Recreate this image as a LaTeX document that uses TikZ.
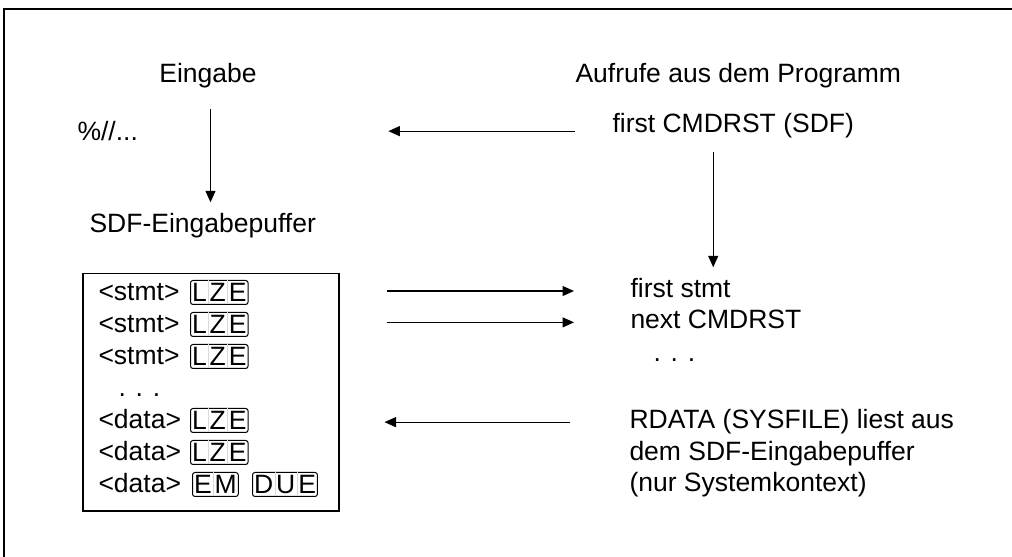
\documentclass[tikz,border=0pt]{standalone}
\usepackage{fontspec}
\setmainfont{Liberation Sans}
\usetikzlibrary{arrows.meta}

% Trennstrich zwischen den Tasten-Buchstaben
\newcommand{\ksep}{\hspace{0.6pt}\rlap{\color{black!15}\rule[-1pt]{0.2pt}{9.6pt}}\hspace{0.6pt}}

\begin{document}
\begin{tikzpicture}[x=0.4pt, y=-0.4pt,
txt/.style={font=\fontsize{10.6}{12.8}\selectfont, inner sep=2pt},
taste/.style={draw, rounded corners=1pt, font=\fontsize{10.6}{12.8}\selectfont, inner xsep=0.6pt, inner ysep=1pt, text height=7.6pt, text depth=0pt, anchor=base west, line width=0.4pt},
arr/.style={-{Triangle[length=4.6pt,width=4pt]}, line width=0.5pt},
]
\useasboundingbox (0,0) rectangle (1012,557);
%% Rahmen
\draw[line width=0.6pt] (4,557) -- (4,9) -- (1012,9);

%% Ueberschriften
\node[txt, anchor=base] (eingabe) at (208,83) {Eingabe};
\node[txt, anchor=base west] (aufrufe) at (570,83) {Aufrufe aus dem Programm};
\node[txt, anchor=base west] (prozent) at (72,141) {\%//...};
\node[txt, anchor=base west] (cmdrst) at (607,133) {first CMDRST (SDF)};
\node[txt, anchor=base west] (puffer) at (84,233) {SDF-Eingabepuffer};

%% Eingabepuffer
\node[draw, line width=0.6pt, anchor=north west, minimum width=102.4pt, minimum height=94.8pt, inner sep=0pt] (box) at (82,273) {};
\foreach \y/\inhalt [count=\i] in {301/{<stmt>}, 333/{<stmt>}, 365/{<stmt>}, 429/{<data>}, 461/{<data>}, 493/{<data>}}
  \node[txt, anchor=base west] (zeile\i) at (93,\y) {\inhalt};
\node[txt, anchor=base west] (punkte) at (113,397) {. . .};
\foreach \y [count=\i] in {302,334,366,430,462}
  \node[taste] (lze\i) at (190,\y) {L\ksep Z\ksep E};
\node[taste] (em) at (192,494) {E\ksep M};
\node[taste] (due) at (252,494) {D\ksep U\ksep E};

%% Aufrufe
\node[txt, anchor=base west] (fstmt) at (625,298) {first stmt};
\node[txt, anchor=base west] (next) at (625,329) {next CMDRST};
\node[txt, anchor=base west] (rpunkte) at (648,362) {. . .};
\node[txt, anchor=base west] (rdata1) at (624,429) {RDATA (SYSFILE) liest aus};
\node[txt, anchor=base west] (rdata2) at (624,461) {dem SDF-Eingabepuffer};
\node[txt, anchor=base west] (rdata3) at (624,492) {(nur Systemkontext)};

%% Pfeile
\coordinate (ca) at ([yshift=-2pt]cmdrst.west);
\coordinate (cb) at ([xshift=-8pt]cmdrst.south);
\draw[arr, shorten <=6.2pt, shorten >=2.4pt] ([xshift=1pt]eingabe.south) -- ([xshift=1pt]eingabe.south |- puffer.north);
\draw[arr, shorten <=12.8pt, shorten >=98pt] (ca) -- (ca -| prozent.east);
\draw[arr, shorten <=3.4pt, shorten >=2.4pt] (cb) -- (cb |- fstmt.north);
\draw[arr, shorten <=18.8pt, shorten >=20.4pt] ([yshift=-1pt]box.east |- fstmt.west) -- ([yshift=-1pt]fstmt.west);
\draw[arr, shorten <=18.8pt, shorten >=20.4pt] ([yshift=-1pt]box.east |- next.west) -- ([yshift=-1pt]next.west);
\draw[arr, shorten <=21.6pt, shorten >=18pt] (rdata1.west) -- (rdata1.west -| box.east);
\end{tikzpicture}
\end{document}
